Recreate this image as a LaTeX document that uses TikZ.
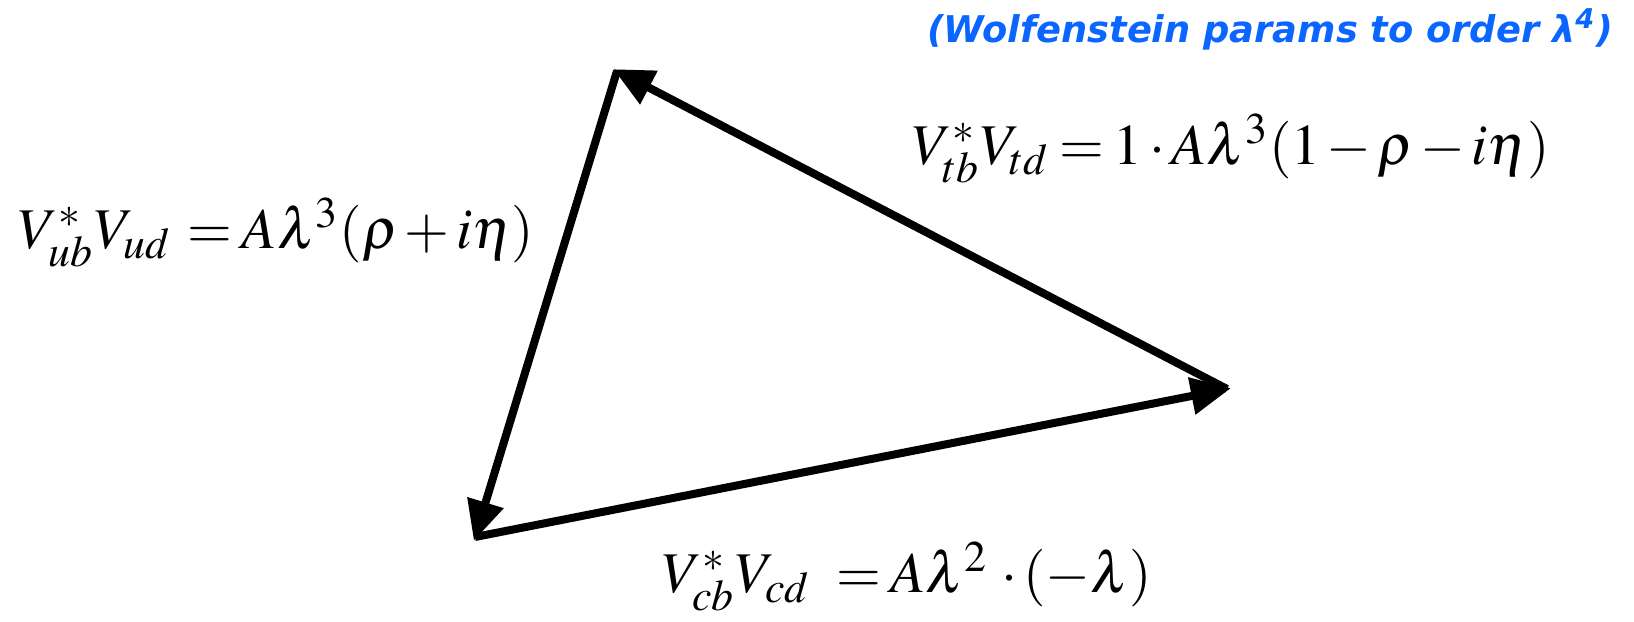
\documentclass[tikz,border=0pt]{standalone}
\usepackage{mathptmx}
\usepackage[no-math]{fontspec}
\newfontfamily\titlefont{DejaVu Sans}
\usetikzlibrary{arrows.meta}
\definecolor{wolfblue}{RGB}{10,102,255}
\tikzset{
  vec/.style={line width=2pt,draw=black,-{Triangle[length=10pt,width=9pt]},shorten >=-1pt},
  term/.style={font=\fontsize{14.4}{17}\selectfont,inner sep=0pt},
  note/.style={font=\titlefont\bfseries\itshape\fontsize{9.2}{11}\selectfont,text=wolfblue,inner sep=0pt}
}
\thickmuskip=3mu
\medmuskip=2mu

\begin{document}
\begin{tikzpicture}[x=0.25pt,y=-0.25pt]
  \useasboundingbox (0,0) rectangle (1634,621);
  \coordinate (T) at (617,71);
  \coordinate (R) at (1227,389);
  \coordinate (B) at (475,537);

  \draw[vec] (B) -- (R);
  \draw[vec] (R) -- (T);
  \draw[vec] (T) -- (B);

  % Side labels
  \node[term,anchor=base west] (ub) at (18,248) {$V_{ub}^{*}V_{ud}\,=A\lambda^{3}(\rho+i\eta)$};
  \node[term,anchor=base west] (tb) at (912,164) {$V_{tb}^{*}V_{td}=1\cdot A\lambda^{3}(1-\rho-i\eta)$};
  \node[term,anchor=base west] (cb) at (662,592) {$V_{cb}^{*}V_{cd}\;\,=A\lambda^{2}\,\cdot(-\lambda)$};

  \node[note,anchor=base east] (title) at (1614,42) {(Wolfenstein params to order λ\textsuperscript{4})};
\end{tikzpicture}
\end{document}
